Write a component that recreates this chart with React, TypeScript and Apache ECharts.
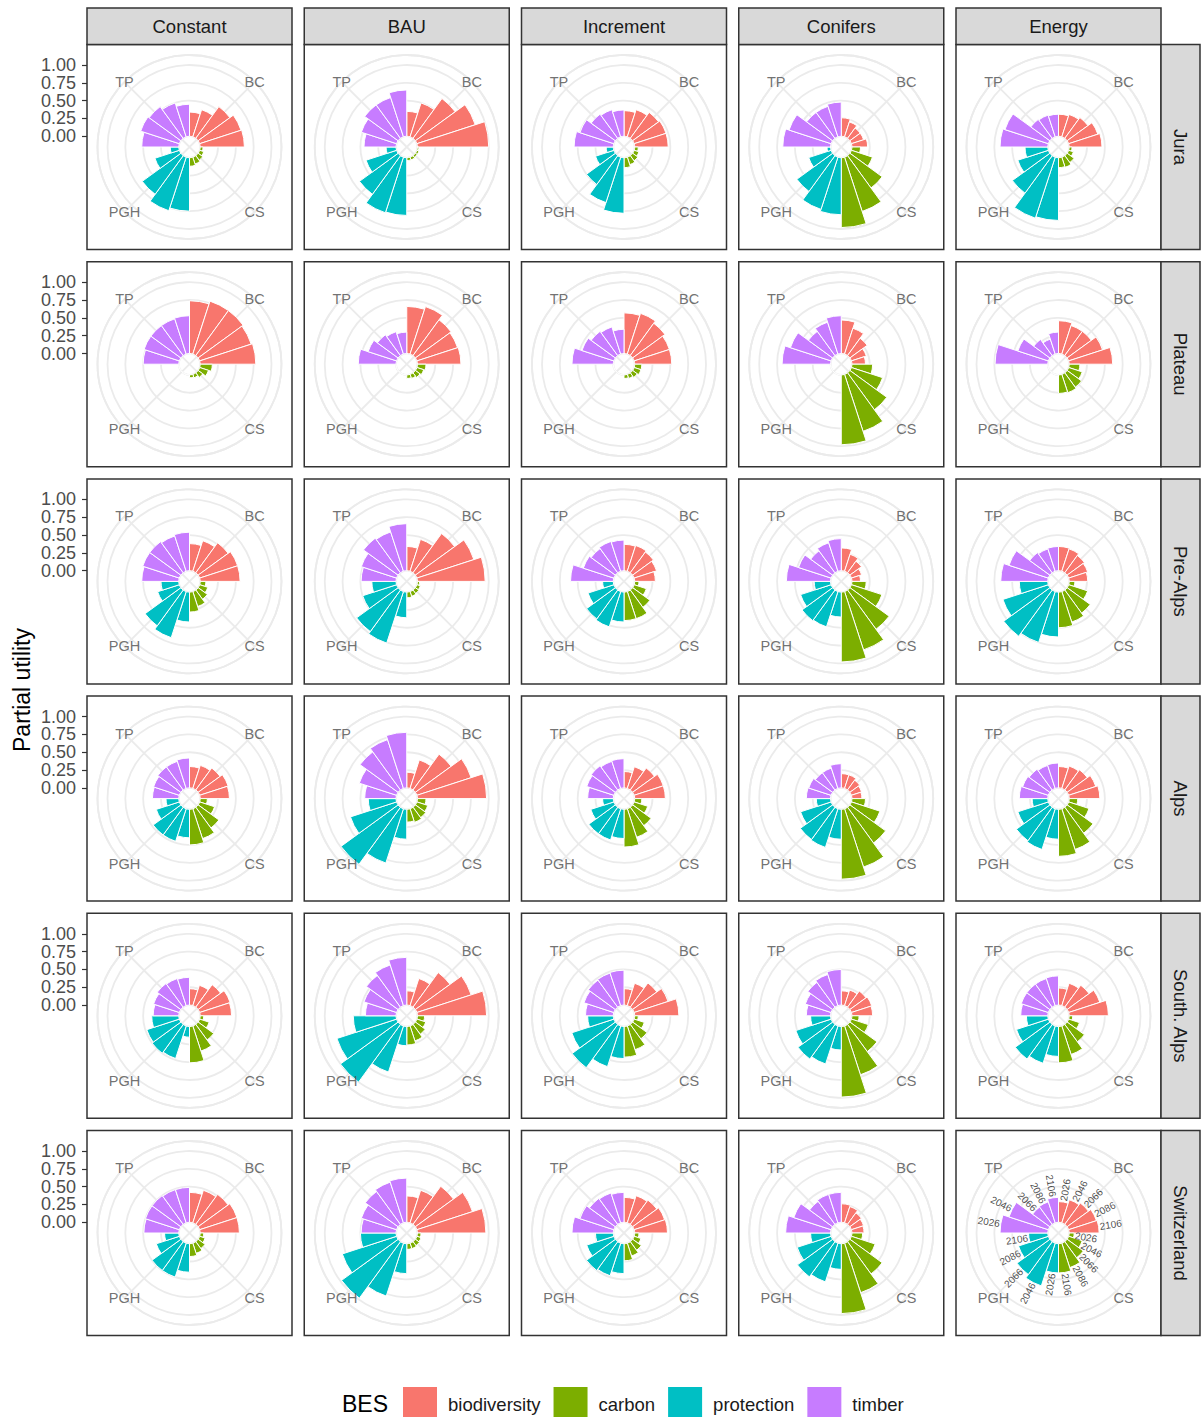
import React, { useEffect, useRef } from "react";
import * as echarts from "echarts";

const SCENARIOS = ["Constant", "BAU", "Increment", "Conifers", "Energy"];
const REGIONS = ["Jura", "Plateau", "Pre-Alps", "Alps", "South. Alps", "Switzerland"];
const BES = ["biodiversity", "carbon", "protection", "timber"];
const YEARS = ["2026", "2046", "2066", "2086", "2106"];
const THETA_LABELS = ["BC", "CS", "PGH", "TP"];
const R_TICKS = [0, 0.25, 0.5, 0.75, 1];

// one row per scenario; each row = biodiversity(5) | carbon(5) | protection(5) | timber(5), years 2026..2106
const JURA = [
  [0.34, 0.40, 0.55, 0.61, 0.62, 0.04, 0.06, 0.08, 0.10, 0.12, 0.75, 0.79, 0.67, 0.36, 0.12, 0.52, 0.57, 0.55, 0.50, 0.45],
  [0.35, 0.50, 0.69, 0.86, 1.00, 0.02, 0.03, 0.03, 0.04, 0.04, 0.81, 0.82, 0.67, 0.45, 0.14, 0.45, 0.52, 0.58, 0.58, 0.65],
  [0.36, 0.40, 0.45, 0.47, 0.47, 0.05, 0.07, 0.09, 0.11, 0.14, 0.78, 0.67, 0.50, 0.27, 0.10, 0.55, 0.50, 0.42, 0.40, 0.37],
  [0.26, 0.22, 0.18, 0.18, 0.22, 0.12, 0.31, 0.56, 0.80, 0.98, 0.80, 0.77, 0.62, 0.33, 0.05, 0.67, 0.62, 0.45, 0.45, 0.48],
  [0.31, 0.33, 0.36, 0.43, 0.46, 0.04, 0.07, 0.12, 0.15, 0.14, 0.88, 0.90, 0.65, 0.45, 0.32, 0.67, 0.64, 0.33, 0.32, 0.31],
];
const PLATEAU = [
  [0.74, 0.78, 0.78, 0.76, 0.78, 0.17, 0.13, 0.08, 0.05, 0.04, 0, 0, 0, 0, 0, 0.50, 0.52, 0.52, 0.52, 0.53],
  [0.66, 0.70, 0.62, 0.60, 0.61, 0.12, 0.10, 0.08, 0.06, 0.05, 0, 0, 0, 0, 0, 0.53, 0.42, 0.36, 0.33, 0.30],
  [0.57, 0.60, 0.56, 0.52, 0.52, 0.10, 0.10, 0.08, 0.06, 0.05, 0, 0, 0, 0, 0, 0.58, 0.47, 0.42, 0.40, 0.34],
  [0.47, 0.38, 0.30, 0.22, 0.19, 0.29, 0.46, 0.64, 0.84, 0.98, 0, 0, 0, 0, 0, 0.68, 0.60, 0.42, 0.47, 0.53],
  [0.46, 0.42, 0.42, 0.50, 0.61, 0.15, 0.20, 0.25, 0.27, 0.26, 0, 0, 0, 0, 0, 0.74, 0.45, 0.28, 0.22, 0.30],
];
const PRE_ALPS = [
  [0.38, 0.45, 0.52, 0.56, 0.56, 0.08, 0.12, 0.16, 0.22, 0.28, 0.42, 0.68, 0.62, 0.32, 0.25, 0.52, 0.54, 0.54, 0.52, 0.54],
  [0.34, 0.47, 0.68, 0.84, 0.95, 0.03, 0.05, 0.06, 0.07, 0.08, 0.36, 0.76, 0.72, 0.50, 0.34, 0.49, 0.52, 0.60, 0.58, 0.66],
  [0.37, 0.38, 0.36, 0.33, 0.29, 0.06, 0.18, 0.30, 0.40, 0.40, 0.42, 0.52, 0.50, 0.38, 0.15, 0.60, 0.45, 0.42, 0.44, 0.43],
  [0.32, 0.25, 0.20, 0.15, 0.12, 0.20, 0.45, 0.68, 0.86, 0.98, 0.35, 0.52, 0.53, 0.45, 0.23, 0.62, 0.48, 0.38, 0.42, 0.45],
  [0.34, 0.33, 0.30, 0.28, 0.26, 0.08, 0.28, 0.40, 0.45, 0.50, 0.63, 0.75, 0.80, 0.67, 0.40, 0.66, 0.58, 0.35, 0.33, 0.34],
];
const ALPS = [
  [0.30, 0.34, 0.38, 0.42, 0.41, 0.10, 0.22, 0.36, 0.44, 0.50, 0.40, 0.48, 0.48, 0.34, 0.18, 0.37, 0.38, 0.40, 0.40, 0.42],
  [0.22, 0.42, 0.62, 0.80, 0.97, 0.12, 0.16, 0.18, 0.20, 0.18, 0.42, 0.80, 0.99, 0.68, 0.39, 0.44, 0.55, 0.66, 0.72, 0.78],
  [0.23, 0.32, 0.38, 0.43, 0.43, 0.10, 0.20, 0.32, 0.42, 0.53, 0.41, 0.46, 0.46, 0.34, 0.15, 0.36, 0.40, 0.42, 0.40, 0.41],
  [0.20, 0.20, 0.17, 0.15, 0.14, 0.19, 0.42, 0.62, 0.86, 0.98, 0.42, 0.57, 0.56, 0.45, 0.20, 0.34, 0.33, 0.30, 0.30, 0.34],
  [0.30, 0.33, 0.35, 0.40, 0.43, 0.12, 0.30, 0.45, 0.60, 0.66, 0.42, 0.60, 0.58, 0.45, 0.22, 0.40, 0.38, 0.36, 0.34, 0.35],
];
const SOUTH_ALPS = [
  [0.23, 0.30, 0.39, 0.45, 0.44, 0.05, 0.14, 0.27, 0.37, 0.51, 0.15, 0.48, 0.50, 0.48, 0.38, 0.36, 0.38, 0.41, 0.40, 0.39],
  [0.20, 0.40, 0.60, 0.80, 0.97, 0.10, 0.13, 0.17, 0.22, 0.26, 0.27, 0.68, 1.00, 0.88, 0.60, 0.43, 0.48, 0.55, 0.60, 0.67],
  [0.23, 0.33, 0.42, 0.50, 0.62, 0.05, 0.15, 0.25, 0.35, 0.43, 0.45, 0.60, 0.75, 0.62, 0.36, 0.39, 0.44, 0.47, 0.48, 0.49],
  [0.20, 0.23, 0.28, 0.30, 0.29, 0.10, 0.25, 0.47, 0.72, 0.99, 0.33, 0.56, 0.60, 0.52, 0.28, 0.34, 0.38, 0.43, 0.46, 0.50],
  [0.24, 0.33, 0.38, 0.46, 0.55, 0.05, 0.16, 0.30, 0.42, 0.51, 0.42, 0.55, 0.60, 0.47, 0.30, 0.38, 0.40, 0.40, 0.40, 0.41],
];
const SWITZERLAND = [
  [0.42, 0.48, 0.52, 0.55, 0.55, 0.05, 0.08, 0.12, 0.15, 0.18, 0.40, 0.50, 0.50, 0.34, 0.20, 0.49, 0.50, 0.50, 0.49, 0.49],
  [0.37, 0.48, 0.66, 0.82, 0.96, 0.05, 0.06, 0.07, 0.08, 0.08, 0.42, 0.78, 0.98, 0.80, 0.50, 0.49, 0.52, 0.57, 0.60, 0.62],
  [0.35, 0.40, 0.42, 0.45, 0.46, 0.06, 0.10, 0.15, 0.19, 0.24, 0.42, 0.48, 0.50, 0.40, 0.25, 0.58, 0.50, 0.45, 0.44, 0.42],
  [0.26, 0.24, 0.20, 0.18, 0.17, 0.15, 0.35, 0.56, 0.73, 0.98, 0.36, 0.57, 0.61, 0.50, 0.28, 0.63, 0.55, 0.40, 0.42, 0.42],
  [0.29, 0.34, 0.37, 0.41, 0.42, 0.07, 0.20, 0.28, 0.36, 0.41, 0.41, 0.63, 0.57, 0.44, 0.27, 0.67, 0.58, 0.30, 0.31, 0.35],
];
const REGION_VALUES = [JURA, PLATEAU, PRE_ALPS, ALPS, SOUTH_ALPS, SWITZERLAND];
const LABELLED_PANEL = { region: 5, scenario: 4 };

// ---- styling / layout ----
const COLORS = ["#F8766D", "#7CAE00", "#00BFC4", "#C77CFF"];
const FONT = "'Liberation Sans', Arial, Helvetica, sans-serif";
const GRID_COLOR = "#EBEBEB";
const GRID_W = 1.8;
const PANEL = 205;
const COL_LEFT = [87, 304.25, 521.5, 738.75, 956];
const ROW_TOP = [44.5, 261.7, 478.9, 696.1, 913.3, 1130.5];
const STRIP_TOP = 8;
const STRIP_H = 36.5;
const RSTRIP_W = 39;
const R_IN = 10.7;
const R_ONE = 82;
const R_OUT = 92;
const R_MAX = (R_OUT - R_IN) / (R_ONE - R_IN);

const CATS: string[] = [];
BES.forEach((b) => YEARS.forEach((y) => CATS.push(b + "-" + y)));

function buildOption() {
  const polar: any[] = [];
  const angleAxis: any[] = [];
  const radiusAxis: any[] = [];
  const series: any[] = [];
  const graphic: any[] = [];
  let pi = 0;

  REGION_VALUES.forEach((rows, r) => {
    rows.forEach((vals, c) => {
      const cx = COL_LEFT[c] + PANEL / 2;
      const cy = ROW_TOP[r] + PANEL / 2;

      // background polar: diagonal theta grid lines, outer circle, theta labels
      polar.push({ center: [cx, cy], radius: [0, R_OUT] });
      angleAxis.push({
        polarIndex: pi, type: "value", min: 0, max: 360, interval: 90, startAngle: 45, clockwise: true,
        axisLine: { show: true, lineStyle: { color: GRID_COLOR, width: GRID_W } },
        axisTick: { show: false }, axisLabel: { show: false },
        splitLine: { show: true, lineStyle: { color: GRID_COLOR, width: GRID_W } },
      });
      radiusAxis.push({
        polarIndex: pi, type: "value", min: 0, max: R_OUT,
        axisLine: { show: false }, axisTick: { show: false }, axisLabel: { show: false }, splitLine: { show: false },
      });
      series.push({
        type: "scatter", coordinateSystem: "polar", polarIndex: pi, symbolSize: 0, silent: true, z: 5,
        data: THETA_LABELS.map((t, i) => ({ name: t, value: [R_OUT, i * 90] })),
        label: { show: true, position: "inside", formatter: "{b}", fontSize: 14.5, color: "#4D4D4D", fontFamily: FONT },
      });
      pi++;

      // data polar
      polar.push({ center: [cx, cy], radius: [R_IN, R_OUT] });
      angleAxis.push({
        polarIndex: pi, type: "category", data: CATS, startAngle: 90, clockwise: true, boundaryGap: true,
        axisLine: { show: false }, axisTick: { show: false }, axisLabel: { show: false }, splitLine: { show: false },
      });
      radiusAxis.push({
        polarIndex: pi, type: "value", min: 0, max: R_MAX, interval: 0.25,
        axisLine: { show: false }, axisTick: { show: false }, axisLabel: { show: false },
        splitLine: { show: true, lineStyle: { color: GRID_COLOR, width: GRID_W } },
      });
      BES.forEach((b, k) => {
        series.push({
          type: "bar", name: b, coordinateSystem: "polar", polarIndex: pi,
          barGap: "-100%", barCategoryGap: "0%", silent: true,
          itemStyle: { color: COLORS[k], borderColor: "#ffffff", borderWidth: 1 },
          data: vals.map((v, j) => (Math.floor(j / 5) === k ? v : "-")),
        });
      });
      if (r === LABELLED_PANEL.region && c === LABELLED_PANEL.scenario) {
        series.push({
          type: "scatter", coordinateSystem: "polar", polarIndex: pi, symbolSize: 0, silent: true, z: 6,
          data: vals.map((v, j) => {
            const phi = 18 * j + 9;
            let rot = 90 - phi;
            if (rot < -90) rot += 180;
            return { name: YEARS[j % 5], value: [v + 0.17, j], label: { rotate: rot } };
          }),
          label: { show: true, position: "inside", formatter: "{b}", fontSize: 10, color: "#1A1A1A", fontFamily: FONT },
        });
      }
      pi++;

      graphic.push({
        type: "rect", z: 20, silent: true,
        shape: { x: COL_LEFT[c], y: ROW_TOP[r], width: PANEL, height: PANEL },
        style: { fill: "none", stroke: "#333333", lineWidth: 1.5 },
      });
    });
  });

  SCENARIOS.forEach((s, c) => {
    graphic.push({
      type: "rect", z: 20, silent: true,
      shape: { x: COL_LEFT[c], y: STRIP_TOP, width: PANEL, height: STRIP_H },
      style: { fill: "#D9D9D9", stroke: "#333333", lineWidth: 1.5 },
    });
    graphic.push({
      type: "text", z: 21, silent: true, x: COL_LEFT[c] + PANEL / 2, y: STRIP_TOP + STRIP_H / 2,
      style: { text: s, align: "center", verticalAlign: "middle", fontSize: 18.5, fill: "#1A1A1A", fontFamily: FONT },
    });
  });
  REGIONS.forEach((reg, r) => {
    const x0 = COL_LEFT[4] + PANEL;
    graphic.push({
      type: "rect", z: 20, silent: true,
      shape: { x: x0, y: ROW_TOP[r], width: RSTRIP_W, height: PANEL },
      style: { fill: "#D9D9D9", stroke: "#333333", lineWidth: 1.5 },
    });
    graphic.push({
      type: "text", z: 21, silent: true, x: x0 + RSTRIP_W / 2, y: ROW_TOP[r] + PANEL / 2, rotation: -Math.PI / 2,
      style: { text: reg, align: "center", verticalAlign: "middle", fontSize: 18.5, fill: "#1A1A1A", fontFamily: FONT },
    });
  });
  graphic.push({
    type: "text", z: 21, silent: true, x: 22, y: (ROW_TOP[0] + ROW_TOP[5] + PANEL) / 2, rotation: Math.PI / 2,
    style: { text: "Partial utility", align: "center", verticalAlign: "middle", fontSize: 23, fill: "#000000", fontFamily: FONT },
  });
  graphic.push({
    type: "text", z: 21, silent: true, x: 342, y: 1404,
    style: { text: "BES", align: "left", verticalAlign: "middle", fontSize: 23, fill: "#000000", fontFamily: FONT },
  });

  const grid = ROW_TOP.map((t) => ({ left: COL_LEFT[0], top: t + PANEL / 2 - R_ONE, width: 10, height: R_ONE - R_IN }));
  const xAxis = ROW_TOP.map((_, i) => ({ gridIndex: i, type: "value", show: false, min: 0, max: 1 }));
  const yAxis = ROW_TOP.map((_, i) => ({
    gridIndex: i, type: "value", min: R_TICKS[0], max: R_TICKS[R_TICKS.length - 1], interval: 0.25,
    axisLine: { show: false },
    axisTick: { show: true, length: 5, lineStyle: { color: "#333333", width: 1.2 } },
    axisLabel: { show: true, formatter: (v: number) => v.toFixed(2), fontSize: 18, color: "#4D4D4D", margin: 11, fontFamily: FONT },
    splitLine: { show: false },
  }));

  return {
    animation: false,
    backgroundColor: "#ffffff",
    textStyle: { fontFamily: FONT },
    polar, angleAxis, radiusAxis, grid, xAxis, yAxis, series, graphic,
    legend: {
      data: BES, left: 403, top: 1387, itemWidth: 34, itemHeight: 34, itemGap: 13, icon: "rect", padding: 0,
      selectedMode: false,
      itemStyle: { borderWidth: 0 },
      textStyle: { fontSize: 18.5, color: "#1A1A1A", fontFamily: FONT, padding: [0, 0, 0, 6] },
    },
  };
}

export default function App() {
  const ref = useRef<HTMLDivElement>(null);
  useEffect(() => {
    if (!ref.current) return;
    const chart = echarts.init(ref.current, undefined, { renderer: "svg" });
    chart.setOption(buildOption() as any);
    return () => chart.dispose();
  }, []);
  return (
    <div
      ref={ref}
      style={{ position: "absolute", left: 0, top: 0, width: 1202, height: 1417, overflow: "hidden", background: "#fff" }}
    />
  );
}
